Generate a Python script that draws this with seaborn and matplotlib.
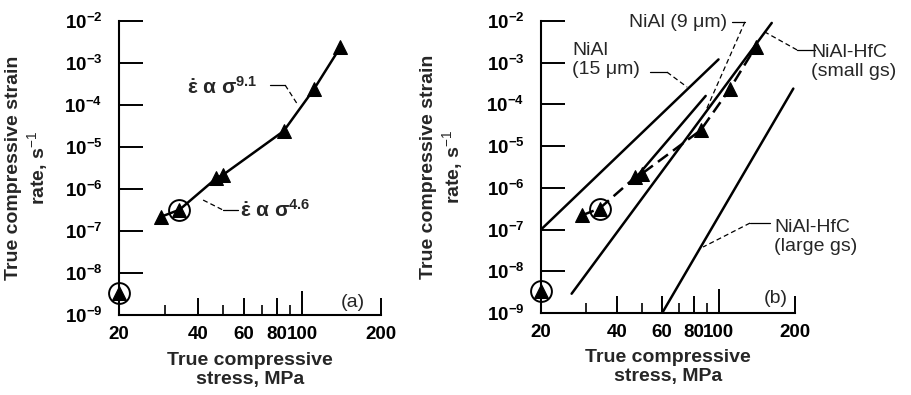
import matplotlib
matplotlib.use('Agg')
import matplotlib.pyplot as plt
from matplotlib.ticker import NullLocator, NullFormatter
import seaborn as sns
import pandas as pd

# creep data, NiAl-HfC small grain size (MPa, 1/s)
stress = [29, 34, 47, 50, 85, 111, 140]
rate = [2.2e-7, 3.2e-7, 1.8e-6, 2.2e-6, 2.4e-5, 2.4e-4, 2.4e-3]
lone_stress = [20]
lone_rate = [3.3e-9]
circled_stress = [20, 34]
circled_rate = [3.3e-9, 3.2e-7]

# comparison lines for panel (b)
nial15_stress = [20, 100]
nial15_rate = [1e-7, 1.2e-3]
nial9_stress = [47.6, 89]
nial9_rate = [1.85e-6, 1.6e-4]
hfc_small_stress = [26.4, 162]
hfc_small_rate = [2.9e-9, 9e-3]
hfc_large_stress = [60, 197]
hfc_large_rate = [1e-9, 2.4e-4]

xtick_vals = [20, 40, 60, 80, 100, 200]
xtick_labels = ['20', '40', '60', '80', '100', '200']
xminor_vals = [30, 50, 70, 90]
ytick_vals = [1e-9, 1e-8, 1e-7, 1e-6, 1e-5, 1e-4, 1e-3, 1e-2]
ytick_labels = [r'$\mathbf{10^{-%d}}$' % n for n in range(9, 1, -1)]

sns.set_style('ticks')
plt.rcParams['font.family'] = ['Liberation Sans', 'DejaVu Sans']
plt.rcParams['mathtext.fontset'] = 'custom'
plt.rcParams['mathtext.rm'] = 'Liberation Sans'
plt.rcParams['mathtext.bf'] = 'Liberation Sans:bold'
plt.rcParams['mathtext.it'] = 'Liberation Sans:italic'

fig = plt.figure(figsize=(9.12, 3.95), dpi=100)
ax_a = fig.add_axes([0.1305, 0.2025, 0.2873, 0.7443])
ax_b = fig.add_axes([0.5932, 0.2076, 0.2785, 0.7392])

LW = 1.8
THIN = 0.9


def style_axis(ax, ylabel_x):
    ax.set_xscale('log')
    ax.set_yscale('log')
    ax.set_xlim(20, 200)
    ax.set_ylim(1e-9, 1e-2)
    ax.set_yticks(ytick_vals, labels=ytick_labels)
    ax.yaxis.set_minor_locator(NullLocator())
    ax.set_xticks(xtick_vals, labels=xtick_labels)
    ax.set_xticks(xminor_vals, minor=True)
    ax.xaxis.set_minor_formatter(NullFormatter())
    ax.tick_params(axis='y', which='major', direction='in', length=17, width=1.4,
                   pad=12, labelsize=13.5, colors='k')
    ax.tick_params(axis='x', which='major', direction='in', length=12, width=1.4,
                   pad=8, labelsize=13.5, colors='k')
    ax.tick_params(axis='x', which='minor', direction='in', length=7, width=1.4)
    for t in ax.xaxis.get_major_ticks():
        if t.get_loc() == 100:
            t.tick1line.set_markersize(17)
    for lab in ax.get_xticklabels():
        lab.set_fontweight('bold')
    for side in ['top', 'right']:
        ax.spines[side].set_visible(False)
    for side in ['left', 'bottom']:
        ax.spines[side].set_linewidth(1.5)
        ax.spines[side].set_color('k')
    ax.set_ylabel('True compressive strain\nrate, s$^{-1}$', fontsize=14,
                  fontweight='bold', linespacing=1.15)
    ax.yaxis.set_label_coords(ylabel_x, 0.5)
    ax.set_xlabel('True compressive\nstress, MPa', fontsize=14,
                  fontweight='bold', linespacing=1.15)
    ax.xaxis.set_label_coords(0.5, -0.125)


def draw_markers(ax):
    sns.lineplot(x=stress + lone_stress, y=rate + lone_rate, ax=ax, linestyle='',
                 marker='^', markersize=10, color='k', markeredgecolor='k',
                 markeredgewidth=0.75, estimator=None, clip_on=False, zorder=5)
    sns.lineplot(x=circled_stress, y=circled_rate, ax=ax, linestyle='',
                 marker='o', markersize=15, color='k', markerfacecolor='none',
                 markeredgecolor='k', markeredgewidth=1.4, estimator=None,
                 clip_on=False, zorder=6)


def leader(ax, solid, dashed):
    ax.plot(solid[0], solid[1], color='k', lw=THIN, transform=ax.transAxes, clip_on=False)
    ax.plot(dashed[0], dashed[1], color='k', lw=THIN, ls=(0, (4, 2.5)),
            transform=ax.transAxes, clip_on=False)


# panel (a)
style_axis(ax_a, -0.265)
sns.lineplot(x=stress, y=rate, ax=ax_a, color='k', lw=LW, estimator=None, sort=True)
draw_markers(ax_a)
ax_a.text(0.26, 0.777, r'$\mathbf{\dot{\varepsilon}\ \alpha\ \sigma^{9.1}}$',
          transform=ax_a.transAxes, fontsize=15, ha='left', va='center')
leader(ax_a, ([0.576, 0.634], [0.782, 0.782]), ([0.634, 0.683], [0.782, 0.714]))
ax_a.text(0.462, 0.357, r'$\mathbf{\dot{\varepsilon}\ \alpha\ \sigma^{4.6}}$',
          transform=ax_a.transAxes, fontsize=15, ha='left', va='center')
leader(ax_a, ([0.397, 0.454], [0.357, 0.357]), ([0.321, 0.397], [0.391, 0.357]))
ax_a.text(0.893, 0.041, '(a)', transform=ax_a.transAxes, fontsize=14,
          ha='center', va='center')

# panel (b)
style_axis(ax_b, -0.30)
for xs, ys in [(nial15_stress, nial15_rate), (nial9_stress, nial9_rate),
               (hfc_small_stress, hfc_small_rate), (hfc_large_stress, hfc_large_rate)]:
    sns.lineplot(x=xs, y=ys, ax=ax_b, color='k', lw=LW, estimator=None)
sns.lineplot(x=stress, y=rate, ax=ax_b, color='k', lw=LW, linestyle=(0, (5, 2.5)),
             estimator=None)
draw_markers(ax_b)

ax_b.text(0.122, 0.866, 'NiAl\n(15 \u03bcm)', transform=ax_b.transAxes, fontsize=14,
          ha='left', va='center', linespacing=1.15)
leader(ax_b, ([0.429, 0.496], [0.825, 0.825]), ([0.496, 0.575], [0.825, 0.774]))
ax_b.text(0.732, 0.995, 'NiAl (9 \u03bcm)', transform=ax_b.transAxes, fontsize=14,
          ha='right', va='center')
leader(ax_b, ([0.752, 0.803], [0.997, 0.997]), ([0.803, 0.65], [0.997, 0.695]))
ax_b.text(1.063, 0.86, 'NiAl-HfC\n(small gs)', transform=ax_b.transAxes, fontsize=14,
          ha='left', va='center', linespacing=1.15)
leader(ax_b, ([1.008, 1.079], [0.901, 0.901]), ([1.008, 0.882], [0.901, 0.962]))
ax_b.text(0.917, 0.26, 'NiAl-HfC\n(large gs)', transform=ax_b.transAxes, fontsize=14,
          ha='left', va='center', linespacing=1.15)
leader(ax_b, ([0.823, 0.902], [0.308, 0.308]), ([0.823, 0.638], [0.308, 0.226]))
ax_b.text(0.925, 0.051, '(b)', transform=ax_b.transAxes, fontsize=14,
          ha='center', va='center')

fig.savefig('out.png', dpi=100)
